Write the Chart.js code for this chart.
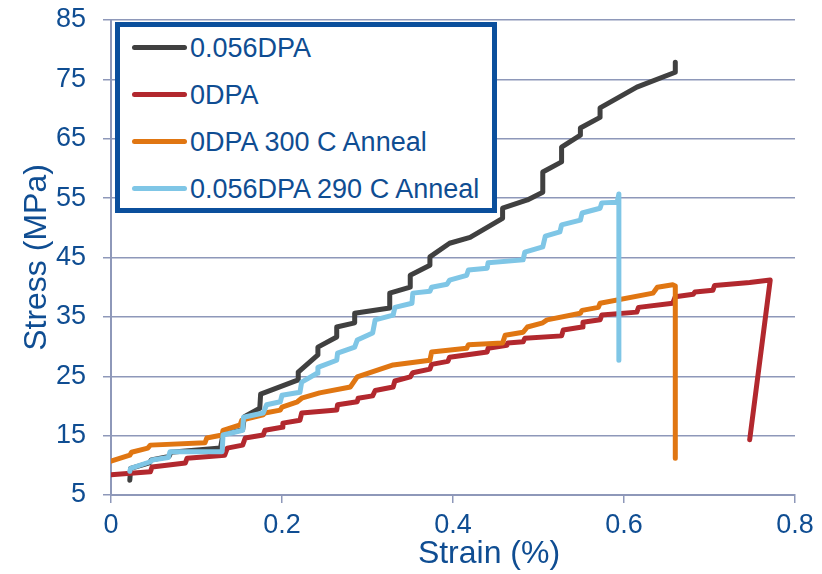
<!DOCTYPE html>
<html lang="en">
<head>
    <meta charset="UTF-8">
    <title>Stress vs Strain</title>
    <style>
        body {
            margin: 0;
            background-color: #ffffff;
        }

        .wrap {
            position: relative;
            width: 822px;
            height: 574px;
        }

        .legend-box {
            position: absolute;
            left: 115px;
            top: 22px;
            width: 372px;
            height: 181px;
            border: 5px solid #0b4f9c;
            background-color: #ffffff;
        }

        .legend-item {
            position: absolute;
            left: 12px;
            height: 30px;
            line-height: 30px;
            font-family: "Liberation Sans", Arial, sans-serif;
            font-size: 27px;
            color: #0f4d92;
            white-space: nowrap;
        }

        .legend-line {
            display: inline-block;
            width: 55px;
            height: 5px;
            border-radius: 3px;
            vertical-align: middle;
            margin-right: 3px;
            position: relative;
            top: -2px;
        }
    </style>
</head>
<body>
    <div class="wrap">
        <canvas id="stressChart" width="822" height="574"></canvas>
        <div class="legend-box" id="legendBox"></div>
    </div>

    <script src="https://cdn.jsdelivr.net/npm/chart.js"></script>
    <script>
        // series names (legend order)
        const seriesNames = ['0.056DPA', '0DPA', '0DPA 300 C Anneal', '0.056DPA 290 C Anneal'];
        const seriesColors = ['#404040', '#b2282e', '#e07612', '#7fc6e6'];

        // 0.056DPA
        const strain056 = [0.022, 0.023, 0.045, 0.047, 0.068, 0.07, 0.128, 0.131, 0.154, 0.156, 0.174, 0.175, 0.219, 0.219, 0.242, 0.242, 0.264, 0.264, 0.285, 0.285, 0.326, 0.326, 0.350, 0.350, 0.373, 0.373, 0.396, 0.420, 0.458, 0.458, 0.487, 0.505, 0.505, 0.527, 0.527, 0.549, 0.549, 0.572, 0.572, 0.615, 0.660, 0.660];
        const stress056 = [7.5, 9.5, 10.4, 10.9, 11.5, 12.2, 12.9, 15.2, 16.0, 18.2, 19.6, 22.0, 24.4, 25.7, 28.6, 29.9, 31.6, 33.3, 34.0, 35.6, 36.5, 39.0, 40.0, 42.0, 43.7, 45.1, 47.4, 48.4, 51.6, 53.3, 54.7, 56.0, 59.4, 61.1, 63.6, 65.6, 66.8, 68.6, 70.2, 73.7, 76.2, 77.9];

        // 0DPA
        const strain0 = [0, 0.046, 0.048, 0.087, 0.089, 0.133, 0.136, 0.154, 0.157, 0.178, 0.180, 0.200, 0.201, 0.221, 0.223, 0.264, 0.265, 0.288, 0.289, 0.306, 0.309, 0.330, 0.332, 0.350, 0.353, 0.373, 0.375, 0.394, 0.396, 0.440, 0.441, 0.463, 0.464, 0.482, 0.484, 0.527, 0.529, 0.551, 0.552, 0.572, 0.574, 0.615, 0.617, 0.657, 0.660, 0.681, 0.683, 0.704, 0.706, 0.747, 0.771, 0.747];
        const stress0 = [8.4, 8.9, 9.7, 10.4, 11.2, 11.7, 12.9, 13.4, 14.6, 15.1, 15.9, 16.4, 17.1, 17.6, 18.8, 19.3, 20.2, 20.7, 21.3, 21.7, 22.6, 23.2, 24.2, 24.9, 25.6, 26.2, 27.0, 27.5, 28.2, 29.1, 29.7, 30.2, 30.6, 30.8, 31.4, 31.8, 32.8, 33.3, 34.1, 34.5, 35.3, 35.8, 36.6, 37.3, 38.4, 38.8, 39.2, 39.5, 40.3, 40.8, 41.2, 14.3];

        // 0DPA 300 C Anneal
        const strain0An = [0, 0.022, 0.024, 0.043, 0.046, 0.110, 0.112, 0.130, 0.131, 0.151, 0.153, 0.178, 0.180, 0.198, 0.200, 0.218, 0.223, 0.244, 0.280, 0.288, 0.330, 0.373, 0.375, 0.416, 0.418, 0.458, 0.461, 0.482, 0.487, 0.505, 0.510, 0.549, 0.551, 0.570, 0.572, 0.634, 0.639, 0.657, 0.660, 0.660];
        const stress0An = [10.7, 11.7, 12.2, 12.9, 13.4, 13.8, 14.6, 15.1, 15.9, 16.8, 17.6, 18.5, 18.8, 19.3, 19.8, 20.7, 21.3, 22.2, 23.2, 24.9, 26.9, 27.7, 29.1, 29.7, 30.3, 30.6, 31.9, 32.4, 33.3, 34.0, 34.5, 35.6, 36.1, 36.6, 37.3, 39.0, 40.0, 40.4, 40.2, 11.2];

        // 0.056DPA 290 C Anneal
        const strain056An = [0.022, 0.023, 0.046, 0.048, 0.067, 0.069, 0.130, 0.131, 0.154, 0.155, 0.178, 0.182, 0.198, 0.200, 0.221, 0.223, 0.241, 0.242, 0.264, 0.265, 0.285, 0.288, 0.306, 0.309, 0.330, 0.332, 0.352, 0.353, 0.373, 0.375, 0.393, 0.396, 0.416, 0.418, 0.440, 0.441, 0.482, 0.484, 0.505, 0.508, 0.525, 0.527, 0.549, 0.551, 0.572, 0.574, 0.592, 0.594, 0.594];
        const stress056An = [9.0, 9.5, 10.6, 10.9, 11.3, 12.3, 12.3, 15.1, 15.9, 18.1, 18.8, 20.2, 20.7, 21.8, 22.3, 24.0, 25.5, 26.5, 27.7, 28.9, 29.9, 31.1, 32.3, 34.5, 35.3, 36.6, 37.3, 39.0, 39.3, 40.0, 40.5, 41.2, 42.0, 42.9, 43.2, 44.1, 44.6, 45.9, 46.8, 48.6, 49.3, 50.5, 51.3, 52.5, 53.3, 54.2, 54.3, 55.7, 27.7];

        // axis ticks
        const xTicks = [0, 0.2, 0.4, 0.6, 0.8];
        const yTicks = [5, 15, 25, 35, 45, 55, 65, 75, 85];

        const textColor = '#0f4d92';
        const gridColor = '#8e98b9';
        const fontFamily = '"Liberation Sans", Arial, sans-serif';

        function toPoints(xs, ys) {
            return xs.map((x, i) => ({ x: x, y: ys[i] }));
        }

        const seriesData = [
            toPoints(strain056, stress056),
            toPoints(strain0, stress0),
            toPoints(strain0An, stress0An),
            toPoints(strain056An, stress056An)
        ];

        const datasets = seriesNames.map((name, i) => ({
            label: name,
            data: seriesData[i],
            showLine: true,
            borderColor: seriesColors[i],
            backgroundColor: seriesColors[i],
            borderWidth: 5,
            borderCapStyle: 'round',
            borderJoinStyle: 'round',
            pointRadius: 0,
            tension: 0,
            order: seriesNames.length - i
        }));

        // legend inside the plot, like the original
        const legendBox = document.getElementById('legendBox');
        const rowTops = [6, 53, 100, 147];
        seriesNames.forEach((name, i) => {
            const item = document.createElement('div');
            item.className = 'legend-item';
            item.style.top = rowTops[i] + 'px';
            item.innerHTML = '<span class="legend-line" style="background:' + seriesColors[i] + '"></span>' + name;
            legendBox.appendChild(item);
        });

        // x title sits a little right of centre in the original
        const xTitlePlugin = {
            id: 'xTitle',
            afterDraw(chart) {
                const c = chart.ctx;
                c.save();
                c.font = '32px ' + fontFamily;
                c.fillStyle = textColor;
                c.textAlign = 'center';
                c.textBaseline = 'middle';
                c.fillText('Strain (%)', 489, 554);
                c.restore();
            }
        };

        const ctx = document.getElementById('stressChart').getContext('2d');
        const stressChart = new Chart(ctx, {
            type: 'scatter',
            data: { datasets: datasets },
            plugins: [xTitlePlugin],
            options: {
                responsive: false,
                animation: false,
                layout: {
                    padding: { top: 20, right: 27, left: 0, bottom: 0 }
                },
                plugins: {
                    legend: { display: false },
                    tooltip: { enabled: false }
                },
                scales: {
                    x: {
                        type: 'linear',
                        min: xTicks[0],
                        max: xTicks[xTicks.length - 1],
                        afterBuildTicks: (scale) => {
                            scale.ticks = xTicks.map(v => ({ value: v }));
                        },
                        afterFit: (scale) => {
                            scale.height = 79;
                            scale.paddingLeft = 0;
                            scale.paddingRight = 0;
                        },
                        ticks: {
                            color: textColor,
                            font: { family: fontFamily, size: 27 },
                            padding: 6,
                            maxRotation: 0,
                            callback: (v) => String(Number(v.toFixed(1)))
                        },
                        grid: {
                            drawOnChartArea: false,
                            tickLength: 8,
                            color: gridColor,
                            lineWidth: 1.5
                        },
                        border: { color: gridColor, width: 2 }
                    },
                    y: {
                        type: 'linear',
                        min: yTicks[0],
                        max: yTicks[yTicks.length - 1],
                        afterBuildTicks: (scale) => {
                            scale.ticks = yTicks.map(v => ({ value: v }));
                        },
                        afterFit: (scale) => {
                            scale.width = 111;
                            scale.paddingTop = 0;
                            scale.paddingBottom = 0;
                        },
                        ticks: {
                            color: textColor,
                            font: { family: fontFamily, size: 27 },
                            padding: 17
                        },
                        grid: {
                            tickLength: 8,
                            color: gridColor,
                            lineWidth: 1.5
                        },
                        border: { color: gridColor, width: 2 },
                        title: {
                            display: true,
                            text: 'Stress (MPa)',
                            color: textColor,
                            font: { family: fontFamily, size: 32, lineHeight: 1.2 },
                            padding: { top: 18, bottom: 0 }
                        }
                    }
                }
            }
        });
    </script>
</body>
</html>
